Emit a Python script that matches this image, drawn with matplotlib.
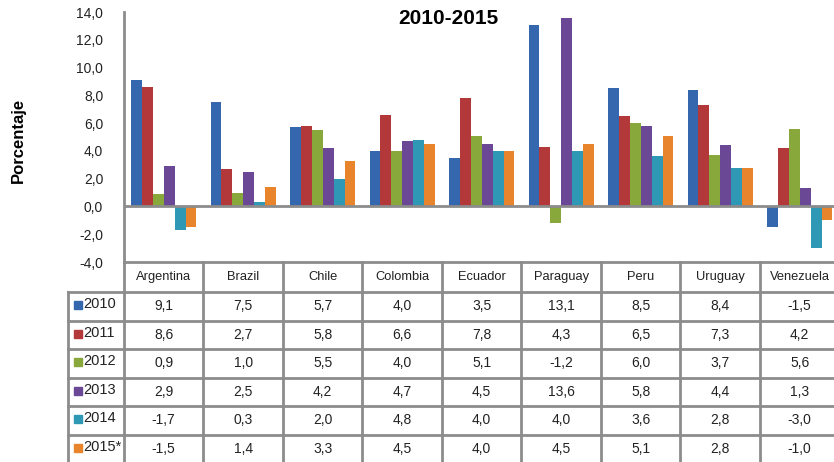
import matplotlib.pyplot as plt
import numpy as np
from matplotlib.patches import Rectangle

plt.rcParams["font.family"] = ["Liberation Sans", "DejaVu Sans"]

countries = ["Argentina", "Brazil", "Chile", "Colombia", "Ecuador",
             "Paraguay", "Peru", "Uruguay", "Venezuela"]
years = ["2010", "2011", "2012", "2013", "2014", "2015*"]
v2010 = [9.1, 7.5, 5.7, 4.0, 3.5, 13.1, 8.5, 8.4, -1.5]
v2011 = [8.6, 2.7, 5.8, 6.6, 7.8, 4.3, 6.5, 7.3, 4.2]
v2012 = [0.9, 1.0, 5.5, 4.0, 5.1, -1.2, 6.0, 3.7, 5.6]
v2013 = [2.9, 2.5, 4.2, 4.7, 4.5, 13.6, 5.8, 4.4, 1.3]
v2014 = [-1.7, 0.3, 2.0, 4.8, 4.0, 4.0, 3.6, 2.8, -3.0]
v2015 = [-1.5, 1.4, 3.3, 4.5, 4.0, 4.5, 5.1, 2.8, -1.0]
series = [v2010, v2011, v2012, v2013, v2014, v2015]
colors = ["#3467ad", "#b3383a", "#89a83c", "#6a4896", "#2f98b5", "#e8842c"]

W, H = 834, 462
fig = plt.figure(figsize=(W / 100, H / 100), dpi=100)

# pixel layout
x_left, col_w = 124, 79.5
y_top, y_bot = 12, 262
leg_left = 68
row_edges = [292, 320.5, 349, 377.5, 406, 434.5, 463]
grid_col = "#8c8c8c"

ax = fig.add_axes([x_left / W, (H - y_bot) / H, 9 * col_w / W, (y_bot - y_top) / H])
x = np.arange(len(countries))
bw = 0.137
for i, (vals, c) in enumerate(zip(series, colors)):
    ax.bar(x + (i - 2.5) * bw, vals, width=bw, color=c, zorder=2)
ax.set_xlim(-0.5, 8.5)
ax.set_ylim(-4, 14)
ax.set_yticks(np.arange(-4, 15, 2))
ax.set_yticklabels([f"{t:.1f}".replace(".", ",") for t in np.arange(-4, 15, 2)],
                   fontsize=10, color="#222222")
ax.tick_params(axis="y", length=0, pad=15)
ax.set_xticks([])
for s in ["top", "right", "bottom"]:
    ax.spines[s].set_visible(False)
ax.spines["left"].set_color(grid_col)
ax.spines["left"].set_linewidth(2)
ax.axhline(0, color=grid_col, lw=2, zorder=3)
ax.patch.set_alpha(0)

fig.text(448 / W, 1 - 18 / H, "2010-2015", ha="center", va="center",
         fontsize=15, fontweight="bold")
fig.text(18 / W, 1 - 140 / H, "Porcentaje", ha="center", va="center",
         rotation=90, fontsize=12, fontweight="bold")

# data table drawn in pixel coordinates
tx = fig.add_axes([0, 0, 1, 1])
tx.set_xlim(0, W)
tx.set_ylim(H, 0)
tx.axis("off")
tx.patch.set_alpha(0)

col_edges = [x_left + k * col_w for k in range(10)]
tx.plot([x_left, col_edges[-1]], [y_bot, y_bot], color=grid_col, lw=2)
for ce in col_edges:
    tx.plot([ce, ce], [y_bot, H + 2], color=grid_col, lw=2)
tx.plot([leg_left, leg_left], [row_edges[0], H + 2], color=grid_col, lw=2)
for re in row_edges:
    tx.plot([leg_left, col_edges[-1]], [re, re], color=grid_col, lw=2)

for k, name in enumerate(countries):
    tx.text(x_left + (k + 0.5) * col_w, 277, name, ha="center", va="center",
            fontsize=9.3, color="#222222")

for r, (yr, vals, c) in enumerate(zip(years, series, colors)):
    yc = (row_edges[r] + row_edges[r + 1]) / 2
    tx.add_patch(Rectangle((74, yc - 5), 8, 8, color=c))
    tx.text(83, yc - 2, yr, ha="left", va="center", fontsize=10.5, color="#222222")
    for k, v in enumerate(vals):
        tx.text(x_left + (k + 0.5) * col_w, yc, f"{v:.1f}".replace(".", ","),
                ha="center", va="center", fontsize=10, color="#222222")

fig.savefig("out.png", dpi=100)
